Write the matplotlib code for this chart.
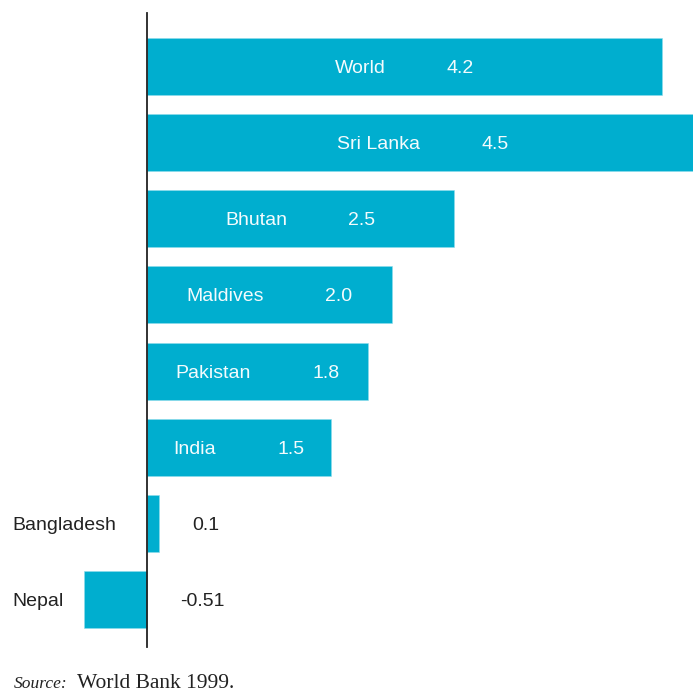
import matplotlib
matplotlib.use("Agg")
import matplotlib.pyplot as plt
from matplotlib.offsetbox import TextArea, HPacker, AnnotationBbox

countries = ["World", "Sri Lanka", "Bhutan", "Maldives", "Pakistan", "India", "Bangladesh", "Nepal"]
values = [4.2, 4.5, 2.5, 2.0, 1.8, 1.5, 0.1, -0.51]
value_labels = ["4.2", "4.5", "2.5", "2.0", "1.8", "1.5", "0.1", "-0.51"]
source_label = "Source:"
source_text = "World Bank 1999."

BAR = "#00AECF"
W, H = 693, 694
fig = plt.figure(figsize=(W / 100, H / 100), dpi=100)
ax = fig.add_axes([0, 1 - 647 / H, 1, 634 / H])

ypos = list(range(len(countries)))
ax.barh(ypos, values, height=0.745, color=BAR, edgecolor="#8fdcec", linewidth=0.4)

ax.set_xlim(-147 / 122.6, (W - 147) / 122.6)
ax.set_ylim(7.618, -0.697)
for s in ["top", "right", "bottom"]:
    ax.spines[s].set_visible(False)
ax.spines["left"].set_position(("data", 0))
ax.spines["left"].set_color("#222222")
ax.spines["left"].set_linewidth(1.3)
ax.spines["left"].set_zorder(5)
ax.set_xticks([])
ax.set_yticks([])
ax.patch.set_visible(False)

font = dict(family="Liberation Sans", size=14)
for y, name, v, lab in zip(ypos, countries, values, value_labels):
    if v >= 1.0:
        t1 = TextArea(name, textprops=dict(color="#f4fbfd", **font))
        t2 = TextArea(lab, textprops=dict(color="#f4fbfd", **font))
        pack = HPacker(children=[t1, t2], sep=44, pad=0, align="baseline")
        ab = AnnotationBbox(pack, (v / 2, y), xycoords="data",
                            xybox=(0, -1.5), boxcoords="offset points",
                            frameon=False, box_alignment=(0.5, 0.5), pad=0)
        ax.add_artist(ab)
    else:
        ax.annotate(name, xy=(12 / W, y), xycoords=ax.get_yaxis_transform(),
                    xytext=(0, -1.5), textcoords="offset points",
                    ha="left", va="center", color="#222222", **font)
        ax.annotate(lab, xy=(max(v, 0), y), xytext=(24, -1.5), textcoords="offset points",
                    ha="left", va="center", color="#222222", **font)

fig.text(14 / W, 6 / H, source_label, family="Liberation Serif", style="italic",
         size=12.5, color="#222222", va="baseline", ha="left")
fig.text(77 / W, 6 / H, source_text, family="Liberation Serif",
         size=15.5, color="#222222", va="baseline", ha="left")

fig.savefig("out.png", dpi=100)
